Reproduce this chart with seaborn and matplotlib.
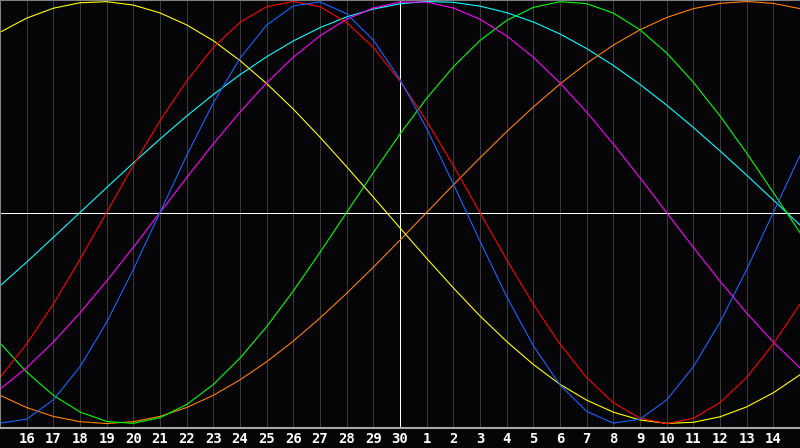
import pandas as pd
import matplotlib
matplotlib.use("Agg")
import matplotlib.pyplot as plt
import seaborn as sns

# day offsets from today (0 = the 30th)
days = list(range(-15, 16))
tick_days = list(range(-14, 15))
tick_labels = ['16', '17', '18', '19', '20', '21', '22', '23', '24', '25', '26', '27', '28', '29', '30',
               '1', '2', '3', '4', '5', '6', '7', '8', '9', '10', '11', '12', '13', '14']

# cycle values, one per day
physical = [-0.998, -0.979, -0.888, -0.731, -0.520, -0.270, 0.0, 0.270, 0.520, 0.731, 0.888,
            0.979, 0.998, 0.942, 0.817, 0.631, 0.398, 0.136, -0.136, -0.398, -0.631,
            -0.817, -0.942, -0.998, -0.979, -0.888, -0.731, -0.520, -0.270, 0.0, 0.270]
emotional = [-0.782, -0.623, -0.434, -0.223, 0.0, 0.223, 0.434, 0.623, 0.782, 0.901, 0.975,
             1.0, 0.975, 0.901, 0.782, 0.623, 0.434, 0.223, 0.0, -0.223, -0.434,
             -0.623, -0.782, -0.901, -0.975, -1.0, -0.975, -0.901, -0.782, -0.623, -0.434]
intellectual = [-0.618, -0.756, -0.866, -0.945, -0.990, -0.999, -0.972, -0.910, -0.815, -0.690, -0.541,
                -0.372, -0.189, 0.0, 0.189, 0.372, 0.541, 0.690, 0.815, 0.910, 0.972,
                0.999, 0.990, 0.945, 0.866, 0.756, 0.618, 0.458, 0.282, 0.095, -0.095]
intuitive = [-0.837, -0.736, -0.614, -0.476, -0.325, -0.165, 0.0, 0.165, 0.325, 0.476, 0.614,
             0.736, 0.837, 0.916, 0.969, 0.997, 0.997, 0.969, 0.916, 0.837, 0.736,
             0.614, 0.476, 0.325, 0.165, 0.0, -0.165, -0.325, -0.476, -0.614, -0.736]
aesthetic = [0.854, 0.921, 0.968, 0.994, 0.999, 0.983, 0.946, 0.889, 0.814, 0.720, 0.611,
             0.490, 0.357, 0.217, 0.073, -0.073, -0.217, -0.357, -0.490, -0.611, -0.720,
             -0.814, -0.889, -0.946, -0.983, -0.999, -0.994, -0.968, -0.921, -0.854, -0.769]
awareness = [-0.866, -0.924, -0.966, -0.991, -1.0, -0.991, -0.966, -0.924, -0.866, -0.793, -0.707,
             -0.609, -0.5, -0.383, -0.259, -0.131, 0.0, 0.131, 0.259, 0.383, 0.5,
             0.609, 0.707, 0.793, 0.866, 0.924, 0.966, 0.991, 1.0, 0.991, 0.966]
spiritual = [-0.348, -0.235, -0.118, 0.0, 0.118, 0.235, 0.348, 0.457, 0.559, 0.653, 0.738,
             0.813, 0.876, 0.927, 0.964, 0.989, 1.0, 0.996, 0.978, 0.947, 0.903,
             0.846, 0.777, 0.697, 0.607, 0.509, 0.403, 0.292, 0.177, 0.059, -0.059]

cycles = {
    'spiritual': spiritual,
    'awareness': awareness,
    'aesthetic': aesthetic,
    'intellectual': intellectual,
    'intuitive': intuitive,
    'emotional': emotional,
    'physical': physical,
}
colors = {
    'physical': '#1464ff',
    'emotional': '#ff0000',
    'intellectual': '#00ff00',
    'intuitive': '#ff00ff',
    'aesthetic': '#ffff00',
    'awareness': '#ff8000',
    'spiritual': '#00ffff',
}

rows = []
for name, vals in cycles.items():
    for d, v in zip(days, vals):
        rows.append({'day': d, 'value': v, 'cycle': name})
df = pd.DataFrame(rows)

bg = '#050508'
fig = plt.figure(figsize=(8, 4.48), dpi=100, facecolor=bg)
ax = fig.add_axes([0, 20 / 448, 1, 428 / 448])
ax.set_facecolor(bg)

# day grid
for d in tick_days:
    ax.axvline(d, color='#3a3a3a', lw=0.5, zorder=0, antialiased=False)
ax.axhline(0, color='white', lw=0.5, zorder=1, antialiased=False)
ax.axvline(0, color='white', lw=0.5, zorder=1, antialiased=False)

sns.lineplot(data=df, x='day', y='value', hue='cycle', palette=colors,
             linewidth=0.8, legend=False, ax=ax, zorder=2)

ax.set_xlim(-15, 15)
ax.set_ylim(-1.021, 1.007)
ax.set_xticks(tick_days)
ax.set_xticklabels(tick_labels, color='white', fontsize=10,
                   fontweight='bold', family='DejaVu Sans Mono')
ax.tick_params(axis='x', length=0, pad=3)
ax.set_yticks([])
ax.set_xlabel('')
ax.set_ylabel('')

ax.spines['right'].set_visible(False)
ax.spines['top'].set_color('#808080')
ax.spines['left'].set_color('#808080')
ax.spines['bottom'].set_color('#a8a8a8')
for s in ax.spines.values():
    s.set_linewidth(1.5)

fig.savefig('out.png', dpi=100, facecolor=bg)
